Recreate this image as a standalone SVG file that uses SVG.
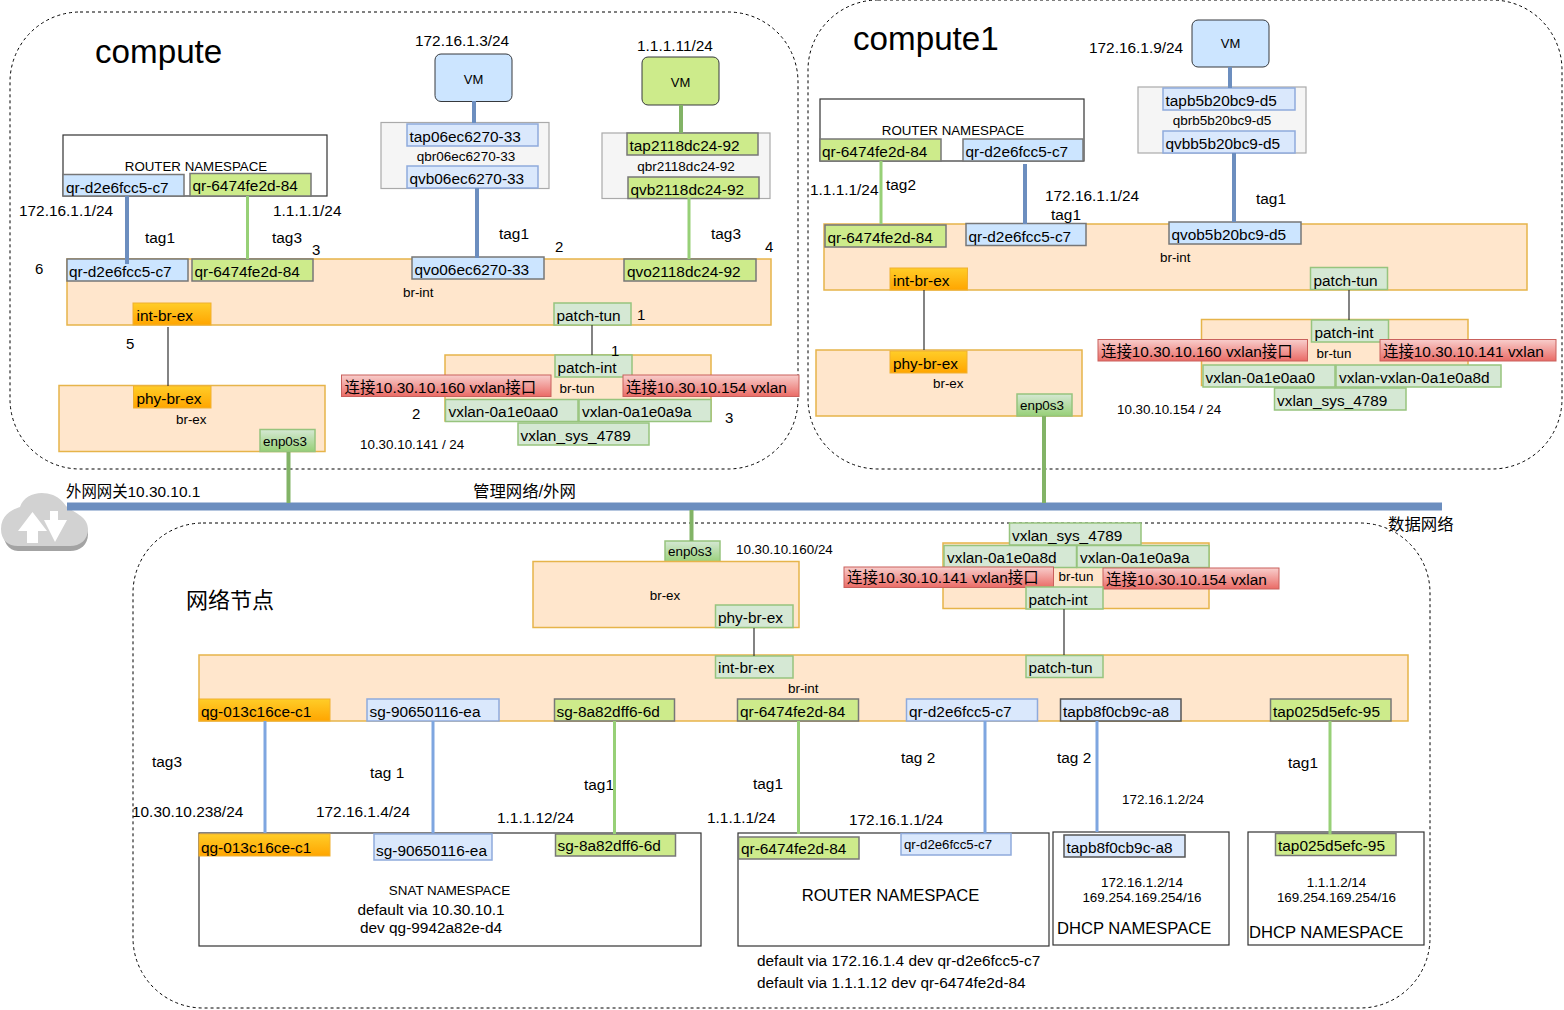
<svg xmlns="http://www.w3.org/2000/svg" width="1564" height="1010" viewBox="0 0 1564 1010">
<style>
text{font-family:"Liberation Sans","Noto Sans CJK SC",sans-serif;font-size:15.4px;fill:#000}
.s{font-size:13.4px}.n{font-size:13px}.l{font-size:16.6px}.t{font-size:33.2px}.d{font-size:15px}.m{font-size:13.4px}.q2{font-size:13.500px}.rn{font-size:13.300px}.cj{font-size:16.400px}
.c{text-anchor:middle}
rect{stroke-width:1.5}
.zone{fill:none;stroke:#000;stroke-width:1;stroke-dasharray:3 3}
.br{fill:#ffe6cc;stroke:#e6b44a}
.ns{fill:#fff;stroke:#333;stroke-width:1.2}
.q{fill:#f5f5f5;stroke:#aaa;stroke-width:1.2}
.b{fill:#cce5ff;stroke:#777}
.lb{fill:#dae8fc;stroke:#8faadc}
.g{fill:#cdeb8b;stroke:#777}
.lg{fill:#d5e8d4;stroke:#97c47e}
.o{fill:url(#og);stroke:#f0b030;stroke-width:1}
.r{fill:url(#rg);stroke:#c9605c;stroke-width:1}
.e{fill:url(#eg);stroke:#97c47e}
.vb{fill:#cce5ff;stroke:#36393d;stroke-width:1}
.vg{fill:#cdeb8b;stroke:#36393d;stroke-width:1}
.w4{stroke-width:4;fill:none}
.bl{stroke:#6c8ebf}.gr{stroke:#97d077}.dg{stroke:#82b366}.lbl{stroke:#7ea6e0}
.k{stroke:#333;stroke-width:1.2;fill:none}
</style>
<defs>
<linearGradient id="og" x1="0" y1="0" x2="0" y2="1"><stop offset="0" stop-color="#ffcd28"/><stop offset="1" stop-color="#ffa500"/></linearGradient>
<linearGradient id="rg" x1="0" y1="0" x2="0" y2="1"><stop offset="0" stop-color="#f8cecc"/><stop offset="1" stop-color="#ea6b66"/></linearGradient>
<linearGradient id="eg" x1="0" y1="0" x2="0" y2="1"><stop offset="0" stop-color="#d5e8d4"/><stop offset="1" stop-color="#97d077"/></linearGradient>
</defs>

<g id="zones">
<rect class="zone" x="10" y="12" width="788" height="457" rx="70"/>
<rect class="zone" x="808" y="0" width="754" height="469" rx="70"/>
<rect class="zone" x="133" y="523" width="1297" height="485" rx="70"/>
<text class="t" x="95" y="63">compute</text>
<text class="t" x="853" y="50">compute1</text>
<text x="186" y="608" style="font-size:22px">网络节点</text>
</g>

<g id="cloud">
<path d="M3 531C1 516 14 511 20 510C24 497 40 491 53 497C60 500 64 505 66 510C72 516 88 520 88 534C88 545 80 551 70 551H18C8 551 3 541 3 531Z" fill="#a3a3a3"/>
<path d="M1 529C1 514 14 509 20 507C24 494 40 490 53 495C60 498 64 503 66 506C72 512 88 516 88 529C88 540 80 546 70 546H18C8 546 1 540 1 529Z" fill="#d2d2d2"/>
<path d="M18 531H27V543H38V531H47L32.500 512Z" fill="#fff"/>
<path d="M44 511V520H50V511H58V520H67L55 542L44 520Z" fill="#fff"/>
</g>

<!-- compute -->
<g id="c-router"><rect class="ns" x="63" y="135" width="264" height="61"/><text class="c rn" x="196" y="171">ROUTER NAMESPACE</text></g>
<g id="c-ns-qr-d2"><rect class="b" x="63" y="174.500" width="121" height="21.500"/><text x="66" y="192.500">qr-d2e6fcc5-c7</text></g>
<g id="c-ns-qr-64"><rect class="g" x="190" y="173.500" width="121" height="22.500"/><text x="192.500" y="191">qr-6474fe2d-84</text></g>
<g id="c-brint"><rect class="br" x="67" y="259" width="704" height="66"/><text class="s" x="403" y="297">br-int</text></g>
<g id="c-qr-d2"><rect class="b" x="67" y="259" width="121" height="22"/><text x="69" y="277">qr-d2e6fcc5-c7</text></g>
<g id="c-qr-64"><rect class="g" x="192" y="259" width="121" height="22"/><text x="194.500" y="277">qr-6474fe2d-84</text></g>
<g id="c-qvo06"><rect class="b" x="412" y="257" width="132" height="22"/><text x="414.500" y="275">qvo06ec6270-33</text></g>
<g id="c-qvo21"><rect class="g" x="624" y="259" width="132" height="22"/><text x="627" y="277">qvo2118dc24-92</text></g>
<g id="c-int-br-ex"><rect class="o" x="133" y="303" width="78" height="22"/><text x="136.500" y="321">int-br-ex</text></g>
<g id="c-patch-tun"><rect class="lg" x="554" y="303" width="77" height="22"/><text x="556.500" y="321">patch-tun</text></g>
<g id="c-brtun"><rect class="br" x="445" y="355" width="266" height="66"/><text class="s c" x="577" y="393">br-tun</text></g>
<g id="c-patch-int"><rect class="lg" x="555" y="355" width="77" height="22"/><text x="557.500" y="373">patch-int</text></g>
<g id="c-r1"><rect class="r" x="341.500" y="375" width="209.500" height="21.500"/><text x="344.500" y="393">连接10.30.10.160 vxlan接口</text></g>
<g id="c-r2"><rect class="r" x="623" y="375" width="176" height="21.500"/><text x="626" y="393">连接10.30.10.154 vxlan</text></g>
<g id="c-vx1"><rect class="lg" x="445.500" y="399.500" width="132.500" height="22"/><text x="448.500" y="417">vxlan-0a1e0aa0</text></g>
<g id="c-vx2"><rect class="lg" x="579" y="399.500" width="132" height="22"/><text x="582" y="417">vxlan-0a1e0a9a</text></g>
<g id="c-vxsys"><rect class="lg" x="518" y="423" width="131" height="22"/><text x="520.500" y="441">vxlan_sys_4789</text></g>
<g id="c-brex"><rect class="br" x="59" y="385.500" width="266" height="66"/><text class="s" x="176" y="424">br-ex</text></g>
<g id="c-phy"><rect class="o" x="133.500" y="386" width="77.500" height="22"/><text x="136.500" y="404">phy-br-ex</text></g>
<g id="c-enp"><rect class="e" x="260" y="429.500" width="55" height="22"/><text class="s" x="263" y="446">enp0s3</text></g>
<g id="c-vm1"><rect class="vb" x="435" y="54" width="77" height="47.500" rx="6"/><text class="n c" x="473.500" y="84">VM</text></g>
<g id="c-q1"><rect class="q" x="381" y="122.500" width="168" height="66"/><text class="q2 c" x="466" y="161">qbr06ec6270-33</text></g>
<g id="c-tap06"><rect class="lb" x="407" y="124" width="131" height="22"/><text x="409.500" y="142">tap06ec6270-33</text></g>
<g id="c-qvb06"><rect class="lb" x="407" y="166" width="131" height="22"/><text x="409.500" y="184">qvb06ec6270-33</text></g>
<g id="c-vm2"><rect class="vg" x="642" y="57" width="77" height="48" rx="6"/><text class="n c" x="680.500" y="87">VM</text></g>
<g id="c-q2"><rect class="q" x="602" y="133" width="168" height="65.500"/><text class="q2 c" x="686" y="171">qbr2118dc24-92</text></g>
<g id="c-tap21"><rect class="g" x="627" y="133" width="131" height="22"/><text x="629.500" y="151">tap2118dc24-92</text></g>
<g id="c-qvb21"><rect class="g" x="628" y="177" width="131" height="21.500"/><text x="630.500" y="195">qvb2118dc24-92</text></g>
<g id="c-labels">
<text x="19" y="216">172.16.1.1/24</text><text x="273" y="216">1.1.1.1/24</text><text x="145" y="243">tag1</text><text x="272" y="243">tag3</text><text class="d" x="312" y="255">3</text>
<text class="d" x="35" y="274">6</text><text class="d" x="126" y="349">5</text>
<text x="415" y="46">172.16.1.3/24</text><text x="637" y="51">1.1.1.11/24</text>
<text x="499" y="239">tag1</text><text class="d" x="555" y="252">2</text><text x="711" y="239">tag3</text><text class="d" x="765" y="252">4</text>
<text class="d" x="637" y="320">1</text><text class="d" x="611" y="356">1</text><text class="d" x="412" y="419">2</text><text class="d" x="725" y="423">3</text>
<text class="s" x="360" y="449">10.30.10.141 / 24</text>
</g>

<!-- compute1 -->
<g id="d-router"><rect class="ns" x="820" y="99" width="264" height="62"/><text class="c rn" x="953" y="135">ROUTER NAMESPACE</text></g>
<g id="d-ns-qr-64"><rect class="g" x="820" y="139" width="121" height="22"/><text x="822" y="157">qr-6474fe2d-84</text></g>
<g id="d-ns-qr-d2"><rect class="b" x="963" y="139" width="120" height="22"/><text x="965.500" y="157">qr-d2e6fcc5-c7</text></g>
<g id="d-vm"><rect class="vb" x="1192" y="20" width="77" height="47" rx="6"/><text class="n c" x="1230.500" y="48">VM</text></g>
<g id="d-q"><rect class="q" x="1138" y="87" width="168" height="66"/><text class="q2 c" x="1222" y="125">qbrb5b20bc9-d5</text></g>
<g id="d-tap"><rect class="lb" x="1163" y="88" width="132" height="22"/><text x="1165.500" y="106">tapb5b20bc9-d5</text></g>
<g id="d-qvb"><rect class="lb" x="1163" y="131" width="132" height="22"/><text x="1165.500" y="149">qvbb5b20bc9-d5</text></g>
<g id="d-brint"><rect class="br" x="824" y="224" width="703" height="66"/><text class="s" x="1160" y="262">br-int</text></g>
<g id="d-qr-64"><rect class="g" x="825" y="225" width="121" height="22"/><text x="827.500" y="243">qr-6474fe2d-84</text></g>
<g id="d-qr-d2"><rect class="b" x="966" y="223.500" width="120" height="22"/><text x="968.500" y="242">qr-d2e6fcc5-c7</text></g>
<g id="d-qvo"><rect class="b" x="1169" y="222" width="132" height="22"/><text x="1171.500" y="240">qvob5b20bc9-d5</text></g>
<g id="d-int-br-ex"><rect class="o" x="890" y="268" width="77.500" height="22"/><text x="893" y="286">int-br-ex</text></g>
<g id="d-patch-tun"><rect class="lg" x="1310.500" y="267.500" width="77" height="22"/><text x="1313.500" y="286">patch-tun</text></g>
<g id="d-brtun"><rect class="br" x="1201.500" y="319.500" width="266.500" height="66"/><text class="s c" x="1334" y="358">br-tun</text></g>
<g id="d-patch-int"><rect class="lg" x="1311.500" y="320" width="77" height="22"/><text x="1314.500" y="338">patch-int</text></g>
<g id="d-r1"><rect class="r" x="1098" y="339.500" width="209.500" height="21.500"/><text x="1101" y="357">连接10.30.10.160 vxlan接口</text></g>
<g id="d-r2"><rect class="r" x="1380" y="339.500" width="176" height="21.500"/><text x="1383" y="357">连接10.30.10.141 vxlan</text></g>
<g id="d-vx1"><rect class="lg" x="1203" y="365" width="132" height="22"/><text x="1205.500" y="383">vxlan-0a1e0aa0</text></g>
<g id="d-vx2"><rect class="lg" x="1336" y="365" width="165" height="22"/><text x="1339" y="383">vxlan-vxlan-0a1e0a8d</text></g>
<g id="d-vxsys"><rect class="lg" x="1274.500" y="388" width="131.500" height="22"/><text x="1277" y="406">vxlan_sys_4789</text></g>
<g id="d-brex"><rect class="br" x="816" y="350" width="266" height="66"/><text class="s" x="933" y="388">br-ex</text></g>
<g id="d-phy"><rect class="o" x="890" y="351" width="77" height="22"/><text x="893" y="369">phy-br-ex</text></g>
<g id="d-enp"><rect class="e" x="1017" y="394" width="55" height="22"/><text class="s" x="1020" y="410">enp0s3</text></g>
<g id="d-labels">
<text x="1089" y="53">172.16.1.9/24</text><text x="1256" y="204">tag1</text><text x="810" y="195">1.1.1.1/24</text><text x="886" y="190">tag2</text><text x="1045" y="201">172.16.1.1/24</text><text x="1051" y="220">tag1</text>
<text class="s" x="1117" y="414">10.30.10.154 / 24</text>
</g>

<g id="bus-labels">
<text x="66" y="497">外网网关10.30.10.1</text><text class="cj" x="473" y="497">管理网络/外网</text><text class="cj" x="1388" y="530">数据网络</text>
</g>

<!-- network node -->
<g id="n-enp"><rect class="e" x="665" y="541" width="55" height="22"/><text class="s" x="668" y="556">enp0s3</text></g>
<g id="n-brex"><rect class="br" x="533" y="561.500" width="266" height="66"/><text class="s c" x="665" y="600">br-ex</text></g>
<g id="n-phy"><rect class="lg" x="715.500" y="605" width="77.500" height="22.500"/><text x="718" y="623">phy-br-ex</text></g>
<g id="n-brtun"><rect class="br" x="943" y="543" width="266" height="65.500"/><text class="s c" x="1076" y="581">br-tun</text></g>
<g id="n-vxsys"><rect class="lg" x="1009.500" y="523" width="131.500" height="22"/><text x="1012" y="541">vxlan_sys_4789</text></g>
<g id="n-vx1"><rect class="lg" x="944" y="545.500" width="132.500" height="22"/><text x="947" y="563">vxlan-0a1e0a8d</text></g>
<g id="n-vx2"><rect class="lg" x="1077" y="545.500" width="132" height="22"/><text x="1080" y="563">vxlan-0a1e0a9a</text></g>
<g id="n-r1"><rect class="r" x="844" y="567" width="209.500" height="20.500"/><text x="847" y="583">连接10.30.10.141 vxlan接口</text></g>
<g id="n-r2"><rect class="r" x="1103" y="568" width="176" height="21"/><text x="1106" y="585">连接10.30.10.154 vxlan</text></g>
<g id="n-patch-int"><rect class="lg" x="1026" y="587" width="77" height="22"/><text x="1028.500" y="605">patch-int</text></g>
<g id="n-brint"><rect class="br" x="199" y="655" width="1209" height="66"/><text class="s" x="788" y="693">br-int</text></g>
<g id="n-int-br-ex"><rect class="lg" x="715.500" y="656" width="77.500" height="22"/><text x="718" y="673">int-br-ex</text></g>
<g id="n-patch-tun"><rect class="lg" x="1026" y="655.500" width="77" height="22"/><text x="1028.500" y="673">patch-tun</text></g>
<g id="n-qg"><rect class="o" x="199" y="699" width="131" height="22"/><text x="201" y="717">qg-013c16ce-c1</text></g>
<g id="n-sg90"><rect class="lb" x="367" y="699" width="132" height="22"/><text x="369.500" y="717">sg-90650116-ea</text></g>
<g id="n-sg8a"><rect class="g" x="554.500" y="699" width="120" height="22"/><text x="556.500" y="717">sg-8a82dff6-6d</text></g>
<g id="n-qr64"><rect class="g" x="737.500" y="699" width="121" height="22"/><text x="740" y="717">qr-6474fe2d-84</text></g>
<g id="n-qrd2"><rect class="lb" x="906.500" y="699" width="131" height="22"/><text x="909" y="717">qr-d2e6fcc5-c7</text></g>
<g id="n-tapb"><rect class="lb" x="1060.500" y="699" width="120.500" height="22" style="stroke:#555"/><text x="1063" y="717">tapb8f0cb9c-a8</text></g>
<g id="n-tap02"><rect class="g" x="1270.500" y="699" width="120.500" height="22"/><text x="1273" y="717">tap025d5efc-95</text></g>

<g id="n-snat"><rect class="ns" x="199" y="833" width="502" height="113"/><text class="s c" x="449.500" y="895">SNAT NAMESPACE</text><text class="c" x="431" y="915">default via 10.30.10.1</text><text class="c" x="431" y="933">dev qg-9942a82e-d4</text></g>
<g id="n-qg2"><rect class="o" x="199" y="834" width="131" height="22"/><text x="201" y="853">qg-013c16ce-c1</text></g>
<g id="n-sg902"><rect class="lb" x="374" y="834" width="118" height="26"/><text x="376" y="856">sg-90650116-ea</text></g>
<g id="n-sg8a2"><rect class="g" x="555.500" y="834" width="120" height="22"/><text x="557.500" y="851">sg-8a82dff6-6d</text></g>
<g id="n-router"><rect class="ns" x="738" y="833" width="311" height="113"/><text class="l c" x="890.500" y="901">ROUTER NAMESPACE</text></g>
<g id="n-qr642"><rect class="g" x="738.500" y="837" width="120.500" height="22"/><text x="741" y="854">qr-6474fe2d-84</text></g>
<g id="n-qrd22"><rect class="lb" x="901" y="833.500" width="110" height="21.500"/><text x="904" y="849" style="font-size:13.200px">qr-d2e6fcc5-c7</text></g>
<g id="n-dhcp1"><rect class="ns" x="1053" y="832" width="176" height="113"/><text class="s c" x="1142" y="887">172.16.1.2/14</text><text class="s c" x="1142" y="902">169.254.169.254/16</text><text class="l" x="1057" y="934">DHCP NAMESPACE</text></g>
<g id="n-tapb2"><rect class="lb" x="1064" y="835" width="121" height="22" style="stroke:#555"/><text x="1066.500" y="853">tapb8f0cb9c-a8</text></g>
<g id="n-dhcp2"><rect class="ns" x="1248" y="832" width="176" height="113"/><text class="s c" x="1336.500" y="887">1.1.1.2/14</text><text class="s c" x="1336.500" y="902">169.254.169.254/16</text><text class="l" x="1249" y="938">DHCP NAMESPACE</text></g>
<g id="n-tap022"><rect class="g" x="1275.500" y="833.500" width="120.500" height="22"/><text x="1278" y="851">tap025d5efc-95</text></g>
<g id="n-labels">
<text class="s" x="736" y="554">10.30.10.160/24</text>
<text x="152" y="767">tag3</text><text x="370" y="778">tag 1</text><text x="584" y="790">tag1</text><text x="753" y="789">tag1</text><text x="901" y="763">tag 2</text><text x="1057" y="763">tag 2</text><text x="1288" y="768">tag1</text>
<text x="132" y="817">10.30.10.238/24</text><text x="316" y="817">172.16.1.4/24</text><text x="497" y="823">1.1.1.12/24</text><text x="707" y="823">1.1.1.1/24</text><text x="849" y="825">172.16.1.1/24</text><text class="s" x="1122" y="804">172.16.1.2/24</text>
<text x="757" y="966">default via 172.16.1.4 dev qr-d2e6fcc5-c7</text><text x="757" y="988">default via 1.1.1.12 dev qr-6474fe2d-84</text>
</g>

<g id="connectors">
<rect x="67" y="502.500" width="1375" height="8" fill="#6c8ebf" stroke="none"/>
<path class="w4 bl" d="M127 196V264M474 101V123M477 188V258M1230 67V88M1234 153V222M1025 164V224"/>
<path class="w4 gr" style="stroke-width:3" d="M247.500 196V259M689 198V259M881 161V224"/>
<path class="w4 dg" d="M681 105V133"/>
<path class="w4 dg" d="M288.500 452V503M1044 416V503M691.500 510V541"/>
<path class="k" d="M168 327V386M592 325V355M924 290V350M1349 290V320M754 628V656M1064 609V655"/>
<path class="w4 lbl" style="stroke-width:3" d="M265 721V833M433 721V833M985 721V833M1097 721V832"/>
<path class="w4 gr" style="stroke-width:3" d="M614.500 721V834M798.500 721V834M1330 721V834"/>
</g>
</svg>
